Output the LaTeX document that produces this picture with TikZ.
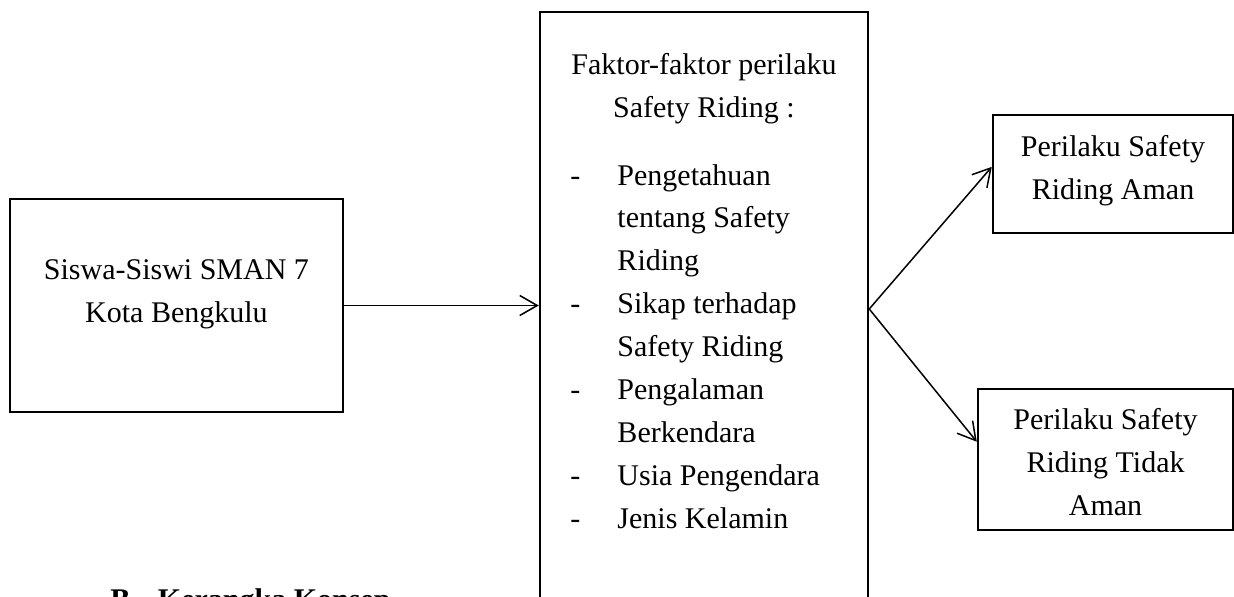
\documentclass[tikz,border=0pt]{standalone}
\usepackage{fontspec}
\setmainfont{Liberation Serif}
\usepackage{tikz}
\usetikzlibrary{arrows.meta, positioning, calc}

\begin{document}
\begin{tikzpicture}[
  arrow/.style={-{Straight Barb[length=7pt, width=8pt]}, line width=0.6pt},
  box/.style={rectangle, draw, line width=1pt, inner sep=0pt},
  txt/.style={font=\fontsize{12}{17.15}\selectfont, inner sep=0pt}
]
\useasboundingbox (0,0) rectangle (17.348,-8.379);

% left: population
\node[box, minimum width=4.682cm, minimum height=2.995cm] (siswa) at (2.481,-4.295) {};
\node[txt, anchor=base] (siswaText) at (2.481,-3.936) {\begin{tabular}[t]{@{}c@{}}Siswa-Siswi SMAN 7\\Kota Bengkulu\end{tabular}};

% middle: factors
\node[box, minimum width=4.611cm, minimum height=8.351cm] (faktor) at (9.897,-4.344) {};
\node[txt, anchor=base] (faktorTitle) at (9.897,-1.054) {\begin{tabular}[t]{@{}c@{}}Faktor-faktor perilaku\\Safety Riding :\end{tabular}};
\node[txt, anchor=base west] (faktorList) at (8.013,-2.601) {\begin{tabular}[t]{@{}p{18.8pt}@{}l@{}}
-&Pengetahuan\\
 &tentang Safety\\
 &Riding\\
-&Sikap terhadap\\
 &Safety Riding\\
-&Pengalaman\\
 &Berkendara\\
-&Usia Pengendara\\
-&Jenis Kelamin
\end{tabular}};

% right: outcomes
\node[box, minimum width=3.374cm, minimum height=1.659cm] (aman) at (15.647,-2.446) {};
\node[txt, anchor=base] (amanText) at (15.647,-2.207) {\begin{tabular}[t]{@{}c@{}}Perilaku Safety\\Riding Aman\end{tabular}};
\node[box, minimum width=3.585cm, minimum height=1.982cm] (tidak) at (15.542,-6.460) {};
\node[txt, anchor=base] (tidakText) at (15.542,-6.045) {\begin{tabular}[t]{@{}c@{}}Perilaku Safety\\Riding Tidak\\Aman\end{tabular}};

\draw[arrow] (siswa.east) -- (siswa.east -| faktor.west);
\draw[arrow] (faktor.east) -- ($(aman.west)+(0,0.10)$);
\draw[arrow] (faktor.east) -- ($(tidak.west)+(0,0.25)$);

\node[txt, font=\fontsize{12}{17.15}\selectfont\bfseries, anchor=base west] (heading) at (1.546,-8.565) {B.\hspace{8pt}Kerangka Konsep};
\end{tikzpicture}
\end{document}
